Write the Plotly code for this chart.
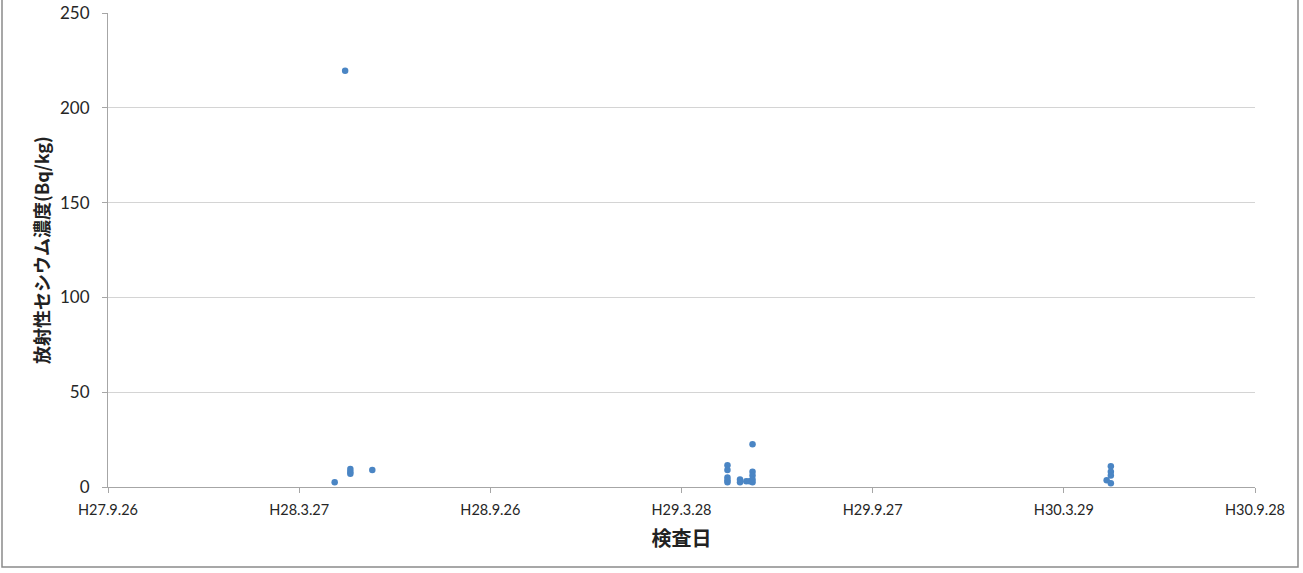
import plotly.graph_objects as go

# Data
dates = [
    "2016-04-30", "2016-05-10", "2016-05-15", "2016-05-15", "2016-05-15", "2016-06-05",
    "2017-05-11", "2017-05-11", "2017-05-11", "2017-05-11", "2017-05-11",
    "2017-05-23", "2017-05-23", "2017-05-29", "2017-06-01",
    "2017-06-04", "2017-06-04", "2017-06-04", "2017-06-04", "2017-06-04",
    "2018-05-09", "2018-05-13", "2018-05-13", "2018-05-13", "2018-05-13",
]
values = [
    2.5, 219.5, 7.0, 8.0, 9.5, 9.0,
    11.5, 9.0, 5.0, 3.5, 2.5,
    4.0, 2.5, 3.0, 3.0,
    22.5, 8.0, 6.0, 4.0, 2.5,
    3.5, 11.0, 8.0, 6.0, 2.0,
]

tick_dates = ["2015-09-26", "2016-03-27", "2016-09-26", "2017-03-28",
              "2017-09-27", "2018-03-29", "2018-09-28"]
tick_labels = ["H27.9.26", "H28.3.27", "H28.9.26", "H29.3.28",
               "H29.9.27", "H30.3.29", "H30.9.28"]
y_ticks = [0, 50, 100, 150, 200, 250]

x_title = "検査日"
y_title = "放射性セシウム濃度(Bq/kg)"

font_lat = "Lato, 'Open Sans', 'Noto Sans CJK JP', sans-serif"
font_jp = "'Noto Sans CJK JP', sans-serif"

fig = go.Figure()
fig.add_trace(go.Scatter(
    x=dates, y=values, mode="markers",
    marker=dict(size=6.5, color="#4a85c4"),
    showlegend=False,
))

fig.update_layout(
    width=1303, height=573, autosize=False,
    margin=dict(l=108, r=48, t=13, b=86, autoexpand=False),
    paper_bgcolor="white", plot_bgcolor="white",
    xaxis=dict(
        type="date", automargin=False,
        range=[tick_dates[0], tick_dates[-1]],
        tickmode="array", tickvals=tick_dates, ticktext=tick_labels,
        showgrid=False, zeroline=False,
        showline=True, linecolor="#a6a6a6", linewidth=1,
        ticks="outside", ticklen=5, tickcolor="#a6a6a6",
        tickfont=dict(family=font_lat, size=14.5, color="#262626"),
        ticklabelstandoff=5,
        title=dict(text=x_title, font=dict(family=font_jp, size=20, color="#222222", weight="bold"),
                   standoff=14),
    ),
    yaxis=dict(
        automargin=False,
        range=[0, 250],
        tickmode="array", tickvals=y_ticks,
        showgrid=True, gridcolor="#d4d4d4", gridwidth=1,
        zeroline=False,
        showline=True, linecolor="#a6a6a6", linewidth=1,
        ticks="outside", ticklen=5, tickcolor="#a6a6a6",
        tickfont=dict(family=font_lat, size=17, color="#262626"),
        ticklabelstandoff=9,
        title=dict(text=y_title, font=dict(family=font_jp, size=18, color="#222222", weight="bold"),
                   standoff=5),
    ),
    shapes=[dict(
        type="rect", xref="paper", yref="paper",
        x0=(2 - 108) / 1147, x1=(1298 - 108) / 1147,
        y0=(487 - 567) / 474, y1=(487 + 8) / 474,
        line=dict(color="#8a8a8a", width=1.5), fillcolor="rgba(0,0,0,0)",
        layer="below",
    )],
)

fig.write_html("out.html", config={"displayModeBar": False},
               post_script="document.body.style.margin='0';")
